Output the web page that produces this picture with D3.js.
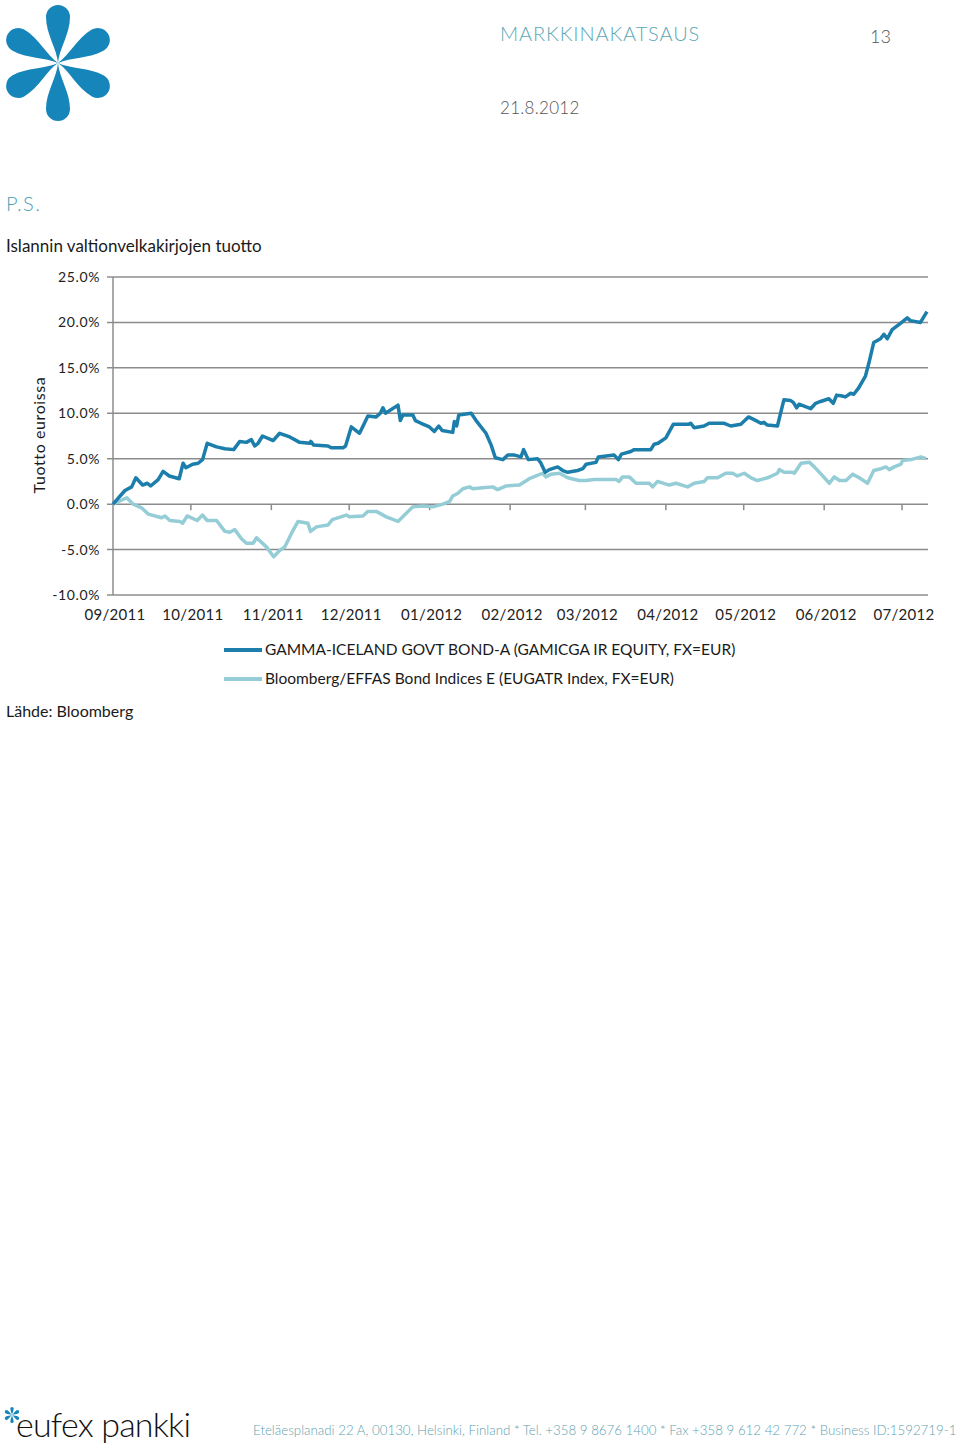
<!DOCTYPE html>
<html><head><meta charset="utf-8">
<script src="https://cdn.jsdelivr.net/npm/d3@7"></script>
<style>
body{margin:0;background:#fff;}
svg{display:block;font-family:Lato,"Open Sans",sans-serif;}
</style></head>
<body>
<script>
// ---- data ----
const seriesNames = ["GAMMA-ICELAND GOVT BOND-A (GAMICGA IR EQUITY, FX=EUR)",
                     "Bloomberg/EFFAS Bond Indices E (EUGATR Index, FX=EUR)"];
const monthLabels = ["09/2011","10/2011","11/2011","12/2011","01/2012","02/2012","03/2012","04/2012","05/2012","06/2012","07/2012"];
const yTicks = [-10,-5,0,5,10,15,20,25];
// days since 2011-09-01
const gammaDays = [0,4.6,7.2,8.8,11.4,13.2,14.5,17.4,19.3,21.7,25.5,27,28.1,30.7,32.8,34.5,36.3,39.9,43.1,46.5,48.8,51.4,53.3,54.6,55.9,57.6,61.7,64.2,68.1,71.9,75.8,76.2,77.3,82.8,84.1,88.6,89.6,91.8,95,98.2,101.4,103,104,105,109.8,110.7,111.7,115.5,116.5,118.7,121.9,123.8,125.5,126.8,130.9,131.5,132.4,133.2,138,139.9,143.7,145.7,147.3,150.2,152.1,154.7,157.2,158.2,160,163.6,164.7,166.5,168.1,171.3,173.3,175.2,179,181,182.3,186.1,187,193.1,194.7,195.9,199.5,200.8,207.2,208.5,210,213,215.9,221.9,222.6,223.9,227.7,229.7,235.5,238,241.9,244.8,247,249.6,250.8,252.1,256,257.2,258.5,261.1,262.1,263.4,264.3,268.8,270.7,272.6,275.8,277.5,278.8,280.9,282.2,284.2,285.4,287.3,289.9,291.2,293.1,295.7,297,298.3,300.2,303.4,306,307.2,311.1,313.6];
const gammaVals = [0,1.5,1.9,2.9,2.1,2.3,2.0,2.7,3.6,3.1,2.8,4.5,4.0,4.4,4.5,4.9,6.7,6.3,6.1,6.0,6.9,6.8,7.1,6.4,6.7,7.5,7.0,7.8,7.4,6.8,6.7,6.9,6.5,6.4,6.2,6.2,6.4,8.5,7.8,9.7,9.6,10.0,10.6,10.0,10.9,9.2,9.8,9.8,9.2,8.9,8.5,8.0,8.6,8.1,7.9,9.1,8.6,9.8,10.0,9.2,7.8,6.5,5.1,4.9,5.4,5.4,5.2,6.0,4.9,5.0,4.6,3.5,3.8,4.1,3.7,3.5,3.7,3.9,4.4,4.6,5.2,5.4,4.9,5.5,5.8,6.0,6.0,6.6,6.7,7.3,8.8,8.8,8.9,8.4,8.6,8.9,8.9,8.6,8.8,9.6,9.3,8.9,9.0,8.7,8.6,10.0,11.5,11.4,11.2,10.6,11.0,10.5,11.1,11.3,11.6,11.1,12.0,11.9,11.8,12.2,12.1,12.8,14.1,15.5,17.8,18.2,18.7,18.2,19.2,19.9,20.5,20.2,20.0,21.2];
const effasDays = [0,5.3,7.8,11,13.6,18.7,20,21.9,25.8,26.8,28.6,32.4,34.5,36.3,39.9,43.1,45,46.9,49.5,51.4,54,55.3,59.1,61.9,64.2,66.2,68.8,71.3,75.1,76.1,78.4,82.8,84.5,89.9,91.2,96.3,98.2,101.4,105.3,109.8,112.3,115.5,119.4,123.2,127.1,129.7,130.9,132.9,134.8,137.4,138.6,142.5,146.3,148.2,151.5,156.6,160.4,165.5,166.8,168.8,172,175.2,179.6,182.2,185.4,193.8,195,196.3,198.9,201.5,206.6,207.9,209.8,214.3,216.9,221.4,223.9,227.8,229,232.9,236.1,238.7,240.6,243.2,245.8,248.3,252.2,256,256.7,258.6,261.8,262.5,265.1,268.3,270.2,272.8,276,277.9,279.9,282.4,285,287.5,290.7,293.1,295.9,297.8,299.1,301,303.6,304.2,307.4,311.3,313.2];
const effasVals = [0,0.7,0.0,-0.4,-1.1,-1.5,-1.3,-1.8,-1.9,-2.1,-1.3,-1.8,-1.2,-1.8,-1.8,-3.0,-3.1,-2.8,-3.8,-4.3,-4.3,-3.7,-4.7,-5.8,-5.1,-4.7,-3.2,-1.9,-2.1,-3.0,-2.5,-2.3,-1.7,-1.2,-1.4,-1.3,-0.8,-0.8,-1.4,-1.9,-1.2,-0.3,-0.2,-0.3,0.0,0.3,0.9,1.2,1.7,1.9,1.7,1.8,1.9,1.6,2.0,2.1,2.8,3.4,3.0,3.3,3.4,2.9,2.6,2.6,2.7,2.7,2.5,3.0,3.0,2.3,2.3,1.9,2.5,2.1,2.3,1.9,2.3,2.5,2.9,2.9,3.4,3.4,3.1,3.4,2.9,2.6,2.9,3.4,3.8,3.5,3.5,3.4,4.5,4.6,4.1,3.3,2.3,3.0,2.6,2.6,3.3,2.9,2.3,3.7,3.9,4.1,3.8,4.1,4.4,4.8,4.9,5.2,5.0];
const seriesColors = ["#1b7eab","#95cdd7"];

// ---- drawing ----
const W = 960, H = 1450;
const svg = d3.select("body").append("svg").attr("width", W).attr("height", H);

const t0 = new Date(2011, 8, 1);
const toDate = d => new Date(t0.getTime() + d * 864e5);
const x = d3.scaleTime().domain([t0, toDate(314)]).range([113, 928]);
const y = d3.scaleLinear().domain([-10, 25]).range([595, 277]);

const petal = "M0,0 C-1,-14 -12,-29 -12,-46 A12,12 0 1 1 12,-46 C12,-29 1,-14 0,0 Z";
function asterisk(parent, tx, ty, s) {
  const lg = parent.append("g").attr("transform", `translate(${tx},${ty}) scale(${s})`);
  [0, 60, 120, 180, 240, 300].forEach(a => {
    lg.append("path").attr("d", petal).attr("fill", "#1685b9").attr("transform", `rotate(${a})`);
  });
}
// logo asterisk
asterisk(svg, 58, 63, 1);

// header
svg.append("text").attr("x", 500).attr("y", 41).text("MARKKINAKATSAUS")
  .attr("font-size", 20).attr("font-weight", 300).attr("fill", "#5aa8b4").attr("letter-spacing", 0.9);
svg.append("text").attr("x", 870).attr("y", 43).text("13")
  .attr("font-size", 18).attr("font-weight", 300).attr("fill", "#555");
svg.append("text").attr("x", 500).attr("y", 114).text("21.8.2012")
  .attr("font-size", 17).attr("font-weight", 300).attr("fill", "#555").attr("letter-spacing", 0.3);
svg.append("text").attr("x", 6).attr("y", 211).text("P.S.")
  .attr("font-size", 20).attr("font-weight", 300).attr("fill", "#4a9fb0").attr("letter-spacing", 1.5);
svg.append("text").attr("x", 6).attr("y", 252).text("Islannin valtionvelkakirjojen tuotto")
  .attr("font-size", 17).attr("fill", "#1a1a1a");

// gridlines
const g = svg.append("g");
g.selectAll("line.grid").data(yTicks).join("line").attr("class", "grid")
  .attr("x1", 107).attr("x2", 928)
  .attr("y1", d => y(d)).attr("y2", d => y(d))
  .attr("stroke", "#8c8c8c").attr("stroke-width", 1.5);
g.append("line").attr("x1", 113).attr("x2", 113).attr("y1", y(25)).attr("y2", y(-10))
  .attr("stroke", "#8c8c8c").attr("stroke-width", 1.5);

// y labels
g.selectAll("text.yl").data(yTicks).join("text").attr("class", "yl")
  .attr("x", 100).attr("y", d => y(d) + 5).attr("text-anchor", "end")
  .attr("font-size", 14).attr("letter-spacing", 0.6).attr("fill", "#222")
  .text(d => d.toFixed(1) + "%");

// x ticks on zero line
const months = d3.timeMonth.range(t0, toDate(314));
g.selectAll("line.xt").data(months.slice(1)).join("line").attr("class", "xt")
  .attr("x1", d => x(d)).attr("x2", d => x(d)).attr("y1", y(0)).attr("y2", y(0) + 6)
  .attr("stroke", "#8c8c8c").attr("stroke-width", 1.5);
g.selectAll("text.xl").data(months).join("text").attr("class", "xl")
  .attr("x", d => x(d) + 2).attr("y", 620).attr("text-anchor", "middle")
  .attr("font-size", 15).attr("letter-spacing", 0.3).attr("fill", "#222")
  .text((d, i) => monthLabels[i]);

// y-axis title
svg.append("text").attr("transform", "translate(45,435) rotate(-90)")
  .attr("text-anchor", "middle").attr("font-size", 16).attr("letter-spacing", 0.6).attr("fill", "#1a1a1a")
  .text("Tuotto euroissa");

// lines
const line = d3.line().x(d => x(toDate(d[0]))).y(d => y(d[1]));
const effas = effasDays.map((d, i) => [d, effasVals[i]]);
const gamma = gammaDays.map((d, i) => [d, gammaVals[i]]);
svg.append("path").datum(effas).attr("d", line).attr("fill", "none")
  .attr("stroke", seriesColors[1]).attr("stroke-width", 3.5).attr("stroke-linejoin", "round");
svg.append("path").datum(gamma).attr("d", line).attr("fill", "none")
  .attr("stroke", seriesColors[0]).attr("stroke-width", 3.5).attr("stroke-linejoin", "round");

// legend
seriesNames.forEach((n, i) => {
  const ly = 650 + i * 29;
  svg.append("line").attr("x1", 224).attr("x2", 262).attr("y1", ly).attr("y2", ly)
    .attr("stroke", seriesColors[i]).attr("stroke-width", 4);
  svg.append("text").attr("x", 265).attr("y", ly + 5).attr("font-size", 15.5).attr("fill", "#1a1a1a").text(n);
});

svg.append("text").attr("x", 6).attr("y", 717).attr("font-size", 16).attr("fill", "#1a1a1a").text("Lähde: Bloomberg");

// footer
asterisk(svg, 12, 1415, 0.14);
svg.append("text").attr("x", 16).attr("y", 1437).attr("font-size", 34).attr("font-weight", 300)
  .attr("fill", "#111").attr("letter-spacing", -0.8).text("eufex pankki");
svg.append("text").attr("x", 253).attr("y", 1435).attr("font-size", 13.3).attr("font-weight", 300)
  .attr("fill", "#5f9fb0")
  .text("Eteläesplanadi 22 A, 00130, Helsinki, Finland * Tel. +358 9 8676 1400 * Fax +358 9 612 42 772 * Business ID:1592719-1");
</script>
</body></html>
